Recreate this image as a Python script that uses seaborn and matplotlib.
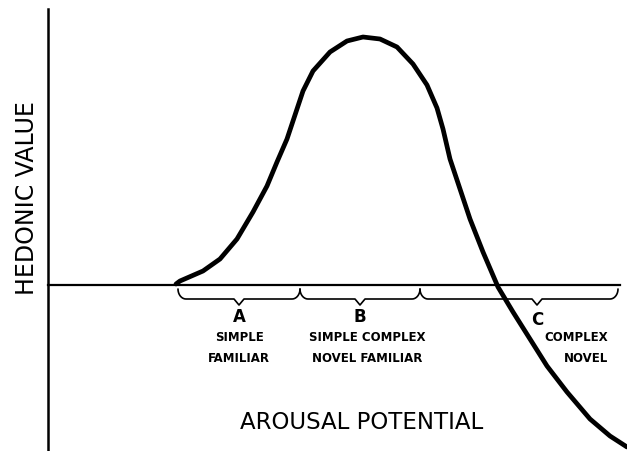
import numpy as np
import pandas as pd
import matplotlib
matplotlib.use('Agg')
import matplotlib.pyplot as plt
import seaborn as sns

# Curva de Wundt: valor hedônico x potencial de excitação (unidades arbitrárias)
arousal = [128, 132, 155, 172, 189, 205, 219, 229, 239, 245, 255, 265, 282, 299, 315, 332, 349,
           365, 379, 389, 395, 402, 412, 422, 435, 450, 465, 482, 499, 519, 542, 562, 579]
hedonic = [1, 4, 14, 26, 46, 73, 99, 123, 146, 164, 194, 214, 233, 244, 248, 246, 238,
           221, 200, 177, 156, 126, 96, 66, 33, -2, -27, -54, -81, -107, -134, -151, -162]

# Grupos de estímulos ao longo do eixo
grupos = ['A', 'B', 'C']
inicio_grupo = [130, 252, 372]
fim_grupo = [252, 372, 570]
centro_grupo = [191, 312, 489]
descricao_grupo = ['SIMPLE\nFAMILIAR', 'SIMPLE COMPLEX\nNOVEL FAMILIAR', 'COMPLEX\nNOVEL']

df = pd.DataFrame({'arousal': arousal, 'hedonic': hedonic})

sns.set_style('white')
plt.rcParams['font.family'] = ['DejaVu Sans']
plt.rcParams['text.color'] = 'black'

fig = plt.figure(figsize=(6.27, 4.52), dpi=100)
ax = fig.add_axes([0, 0, 1, 1])
ax.set_xlim(-48, 579)
ax.set_ylim(-166, 286)

sns.lineplot(data=df, x='arousal', y='hedonic', color='black', lw=3.4,
             sort=False, ax=ax, solid_capstyle='round', solid_joinstyle='round')

# eixos cruzando na origem
for lado in ['top', 'right']:
    ax.spines[lado].set_visible(False)
ax.spines['left'].set_position(('data', 0))
ax.spines['bottom'].set_position(('data', 0))
ax.spines['left'].set_bounds(-166, 276)
ax.spines['bottom'].set_bounds(0, fim_grupo[-1] + 2)
ax.spines['left'].set_linewidth(1.8)
ax.spines['bottom'].set_linewidth(1.6)
ax.spines['left'].set_color('black')
ax.spines['bottom'].set_color('black')
ax.set_xticks(fim_grupo)
ax.set_yticks([])
ax.tick_params(axis='x', direction='in', length=5, width=1.2, color='black', labelbottom=False)
ax.set_xlabel('')
ax.set_ylabel('')


def chave(x0, x1, xp, y_topo=-4, y_linha=-14, y_ponta=-20, r=8):
    t = np.linspace(0, np.pi / 2, 12)
    xs_esq = x0 + r * (1 - np.cos(t))
    ys_esq = y_topo + (y_linha - y_topo) * np.sin(t)
    xs_dir = (x1 - r * (1 - np.cos(t)))[::-1]
    ys_dir = ys_esq[::-1]
    xs = list(xs_esq) + [xp - 5, xp, xp + 5] + list(xs_dir)
    ys = list(ys_esq) + [y_linha, y_ponta, y_linha] + list(ys_dir)
    return xs, ys


for g, x0, x1, xm, desc in zip(grupos, inicio_grupo, fim_grupo, centro_grupo, descricao_grupo):
    xs, ys = chave(x0, x1, xm)
    ax.plot(xs, ys, color='black', lw=1.2)
    ax.text(xm, -31 if g != 'C' else -34, g, ha='center', va='center',
            fontsize=12, fontweight='bold')
    if g == 'C':
        ax.text(x1 - 10, -62, desc, ha='right', va='center', fontsize=8.5,
                fontweight='bold', linespacing=1.8, multialignment='right')
    else:
        ax.text(xm + (7 if g == 'B' else 0), -62, desc, ha='center', va='center',
                fontsize=8.5, fontweight='bold', linespacing=1.8)

ax.text(-21, 88, 'HEDONIC VALUE', rotation=90, ha='center', va='center', fontsize=17)
ax.text(314, -137, 'AROUSAL POTENTIAL', ha='center', va='center', fontsize=16.5)

fig.savefig('out.png', dpi=100, facecolor='white')
